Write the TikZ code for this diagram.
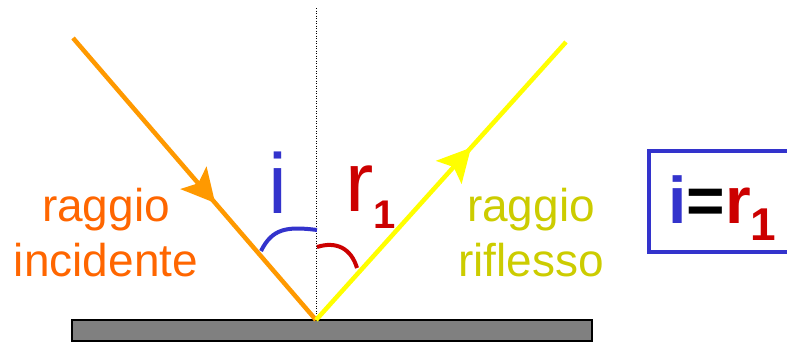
\documentclass[tikz,border=0pt]{standalone}
\usepackage{fontspec}
\setmainfont{Liberation Sans}
\usetikzlibrary{arrows.meta,decorations.markings}
\definecolor{rayorange}{HTML}{FF9900}
\definecolor{txtorange}{HTML}{FF6600}
\definecolor{rayyellow}{HTML}{FFFF00}
\definecolor{txtyellow}{HTML}{CCCC00}
\definecolor{angblue}{HTML}{3333CC}
\definecolor{angred}{HTML}{CC0000}
\definecolor{mirrorgray}{HTML}{808080}
\tikzset{
  ray/.style={line width=4.5pt},
  midarrow/.style={postaction={decorate},decoration={markings,
    mark=at position #1 with {\arrow{Stealth[length=33pt,width=34pt,inset=7pt]}}}},
  raylabel/.style={align=center,font=\fontsize{46}{55}\selectfont,inner sep=0pt},
  anglabel/.style={anchor=base west,font=\fontsize{85}{85}\selectfont,inner sep=0pt},
  eqframe/.style={draw=angblue,line width=4pt,inner sep=0pt}
}
\begin{document}
\begin{tikzpicture}[x=1pt,y=-1pt]
  \useasboundingbox (0,0) rectangle (787,343);
  \clip (0,0) rectangle (787,343);
  % mirror
  \draw[fill=mirrorgray, line width=2pt] (72,320) rectangle (592,341);
  % points
  \coordinate (A) at (73,38);
  \coordinate (O) at (316,320);
  \coordinate (B) at (566,42);
  \coordinate (N) at (316,8);
  % normal
  \draw[line width=0.8pt, dash pattern=on 1pt off 1.5pt] (N) -- (O);
  % rays
  \draw[ray, rayorange, midarrow=0.585] (A) -- (O);
  \draw[ray, rayyellow, midarrow=0.62] (O) -- (B);
  % angles
  \draw[angblue, line width=4pt] (261,251) .. controls (272,229) and (286,226) .. (317,230);
  \draw[angred, line width=4pt] (317,247) .. controls (336,241) and (351,248) .. (357,268);
  \node[anglabel, text=angblue] (i) at (268,213) {i};
  \node[anglabel, text=angred] (r) at (345,211)
    {r\raisebox{-17pt}{\fontsize{40}{40}\selectfont\bfseries 1}};
  % labels
  \node[raylabel, text=txtorange] (inc) at (106,233) {raggio\\incidente};
  \node[raylabel, text=txtyellow] (rif) at (531,233) {raggio\\riflesso};
  % result
  \node[eqframe, minimum width=170pt, minimum height=101pt, anchor=north west] (eqbox) at (647,149) {};
  \node[anchor=base west, inner sep=0pt, font=\fontsize{66}{66}\selectfont\bfseries] (eq) at (668,223)
    {\textcolor{angblue}{i}=\textcolor{angred}{r\raisebox{-17pt}{\fontsize{46}{46}\selectfont 1}}};
\end{tikzpicture}
\end{document}
